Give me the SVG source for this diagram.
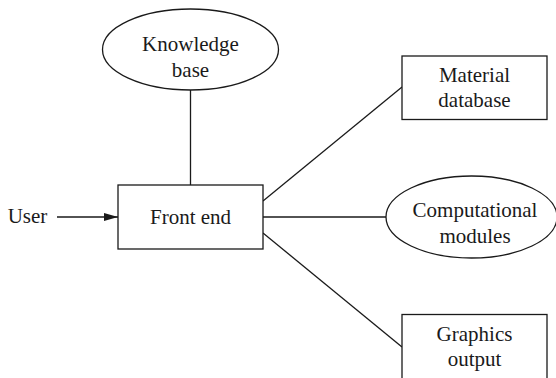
<svg xmlns="http://www.w3.org/2000/svg" width="556" height="378" viewBox="0 0 556 378">
<style>
.n{fill:#fff;stroke:#1a1a1a;stroke-width:1.3}
.c{fill:none;stroke:#1a1a1a;stroke-width:1.3}
text{font-family:"Liberation Serif","Times New Roman",serif;font-size:21px;fill:#1a1a1a;text-anchor:middle}
</style>
<defs>
<marker id="ah" viewBox="0 0 14 8" refX="14" refY="4" markerWidth="14" markerHeight="8" markerUnits="userSpaceOnUse" orient="auto">
<path d="M0,0 L14,4 L0,8 Z" fill="#1a1a1a"/>
</marker>
</defs>
<g id="connectors">
<line class="c" x1="190.5" y1="90" x2="190.5" y2="185"/>
<line class="c" x1="57" y1="217" x2="118" y2="217" marker-end="url(#ah)"/>
<line class="c" x1="263" y1="201" x2="402" y2="87"/>
<line class="c" x1="263" y1="217" x2="386" y2="217"/>
<line class="c" x1="263" y1="233" x2="402" y2="347"/>
</g>
<g id="knowledge-base">
<ellipse class="n" cx="190.5" cy="49.5" rx="88" ry="40.5"/>
<text x="190.5" y="51">Knowledge</text>
<text x="190.5" y="77">base</text>
</g>
<g id="user">
<text x="27.5" y="223">User</text>
</g>
<g id="front-end">
<rect class="n" x="118" y="185" width="145" height="64"/>
<text x="190.5" y="223.5">Front end</text>
</g>
<g id="material-database">
<rect class="n" x="402" y="56" width="145" height="63.5"/>
<text x="474.5" y="82">Material</text>
<text x="474.5" y="107">database</text>
</g>
<g id="computational-modules">
<ellipse class="n" cx="471.5" cy="217" rx="85.5" ry="41"/>
<text x="475" y="217">Computational</text>
<text x="475" y="243">modules</text>
</g>
<g id="graphics-output">
<rect class="n" x="402" y="314.5" width="145" height="70"/>
<text x="474.5" y="341">Graphics</text>
<text x="474.5" y="366">output</text>
</g>
</svg>
